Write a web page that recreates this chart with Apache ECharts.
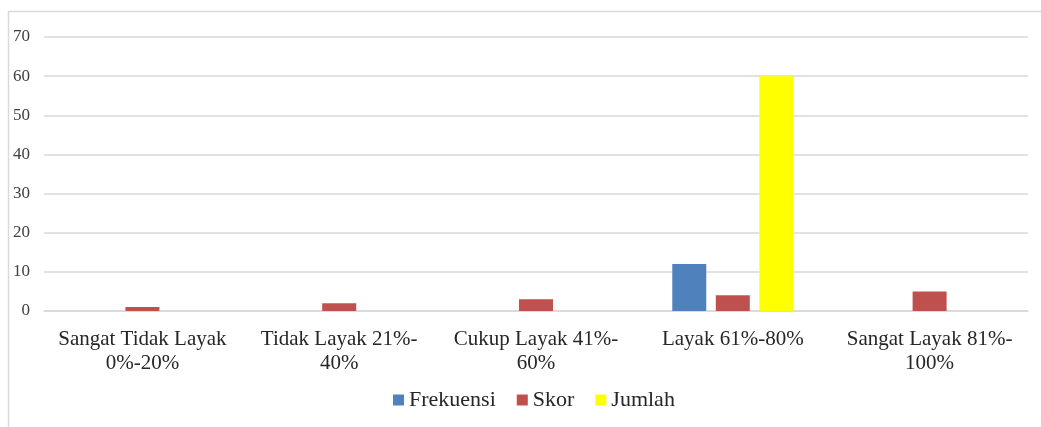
<!DOCTYPE html>
<html><head><meta charset="utf-8">
<script src="https://cdn.jsdelivr.net/npm/echarts@6/dist/echarts.min.js"></script>
<style>html,body{margin:0;padding:0;background:#fff}#c{width:1041px;height:427px}</style>
</head><body><div id="c"></div>
<script>
const categories = ['Sangat Tidak Layak\n0%-20%', 'Tidak Layak 21%-\n40%', 'Cukup Layak 41%-\n60%', 'Layak 61%-80%', 'Sangat Layak 81%-\n100%'];
const frekuensi = [0, 0, 0, 12, 0];
const skor = [1, 2, 3, 4, 5];
const jumlah = [0, 0, 0, 60, 0];
const yTicks = {min: 0, max: 70, interval: 10};

const chart = echarts.init(document.getElementById('c'));
const font = 'Liberation Serif';
chart.setOption({
  animation: false,
  graphic: [
    {type: 'polyline', shape: {points: [[8.5, 427], [8.5, 11.5], [1041, 11.5]]}, style: {stroke: '#d9d9d9', lineWidth: 1.5, fill: null}}
  ],
  legend: {
    bottom: 11, left: 388, itemWidth: 11, itemHeight: 11, itemGap: 21,
    icon: 'rect',
    textStyle: {fontFamily: font, fontSize: 22, color: '#262626'},
    data: ['Frekuensi', 'Skor', 'Jumlah']
  },
  grid: {left: 44, right: 13, top: 37, bottom: 116, containLabel: false, outerBoundsMode: 'none'},
  xAxis: {
    type: 'category', data: categories,
    axisLine: {lineStyle: {color: '#d9d9d9', width: 1.5}},
    axisTick: {show: false},
    axisLabel: {fontFamily: font, fontSize: 21, color: '#262626', margin: 16, lineHeight: 24, interval: 0}
  },
  yAxis: {
    type: 'value', min: yTicks.min, max: yTicks.max, interval: yTicks.interval,
    axisLine: {show: false}, axisTick: {show: false},
    splitLine: {lineStyle: {color: '#d9d9d9', width: 1.5}},
    axisLabel: {fontFamily: font, fontSize: 17, color: '#404040', margin: 14}
  },
  series: [
    {name: 'Frekuensi', type: 'bar', data: frekuensi, barWidth: 34, barGap: '28%', itemStyle: {color: '#4F81BD'}},
    {name: 'Skor', type: 'bar', data: skor, barWidth: 34, barGap: '28%', itemStyle: {color: '#C0504D'}},
    {name: 'Jumlah', type: 'bar', data: jumlah, barWidth: 34, barGap: '28%', itemStyle: {color: '#FFFF00'}}
  ]
});
</script></body></html>
